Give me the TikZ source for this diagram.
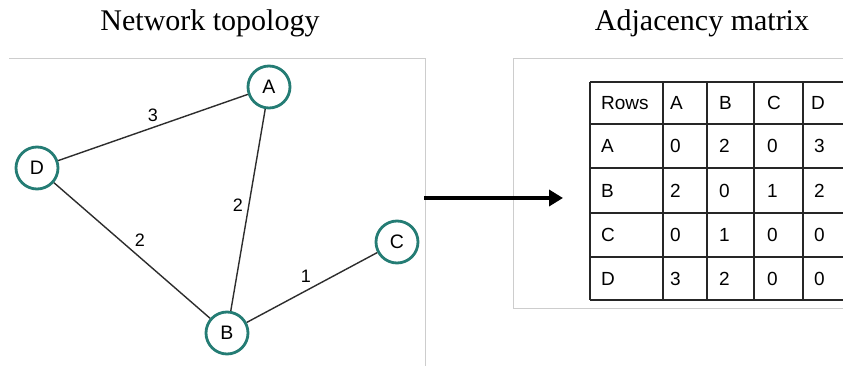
\documentclass[tikz,border=0pt]{standalone}
\usepackage{fontspec}
\setmainfont{Liberation Serif}
\newfontfamily\helv{Liberation Sans}
\usetikzlibrary{arrows.meta}
\definecolor{teal1}{RGB}{36,124,116}
\definecolor{panelgray}{RGB}{205,205,205}
\definecolor{edgegray}{RGB}{45,45,45}
\tikzset{
  vtx/.style={circle, draw=teal1, line width=2.8pt, minimum size=42pt, inner sep=0pt, fill=white, font=\helv\fontsize{19.5}{22}\selectfont},
  wlink/.style={draw=edgegray, line width=1.4pt},
  wlbl/.style={font=\helv\fontsize{18}{21}\selectfont, inner sep=0pt},
  title/.style={font=\fontsize{30}{36}\selectfont, anchor=base, inner sep=0pt},
  panel/.style={draw=panelgray, line width=1pt},
  grid/.style={draw=black!85, line width=1.3pt},
  cell/.style={font=\helv\fontsize{19}{22}\selectfont, anchor=west, inner sep=0pt},
  bigarrow/.style={line width=4pt, -{Triangle[length=14pt,width=16pt]}}
}
\begin{document}
\begin{tikzpicture}[x=1pt,y=-1pt]
\path[use as bounding box, fill=white] (0,0) rectangle (843,366);
\clip (0,0) rectangle (843,366);
% titles
\node[title] (t1) at (210,31) {Network topology};
\node[title] (t2) at (702,31) {Adjacency matrix};
% panels
\draw[panel] (9,59) -- (425,59) -- (425,370);
\draw[panel] (850,59) -- (513,59) -- (513,308) -- (850,308);
% graph
\node[vtx] (A) at (269,87) {A};
\node[vtx] (D) at (37,168) {D};
\node[vtx] (C) at (397,242) {C};
\node[vtx] (B) at (227,333) {B};
\draw[wlink] (D) -- node[wlbl, pos=0.5, shift={(0,-12.5)}] (l3) {3} (A);
\draw[wlink] (A) -- node[wlbl, pos=0.476, shift={(-11,0)}] (l2a) {2} (B);
\draw[wlink] (D) -- node[wlbl, pos=0.5, shift={(8,-10.5)}] (l2b) {2} (B);
\draw[wlink] (B) -- node[wlbl, pos=0.5, shift={(-6,-11.5)}] (l1) {1} (C);
% arrow
\coordinate (arrS) at (424,198);
\coordinate (arrE) at (563,198);
\draw[bigarrow] (arrS) -- (arrE);
% table grid
\foreach \yy in {82,124,168,213,257,300} {\draw[grid] (590,\yy) -- (850,\yy);}
\foreach \xx in {590,663,707,754,803} {\draw[grid] (\xx,82) -- (\xx,300);}
% table text
\node[cell] (h0) at (601,103) {Rows};
\node[cell] (h1) at (670,103) {A};
\node[cell] (h2) at (719,103) {B};
\node[cell] (h3) at (767,103) {C};
\node[cell] (h4) at (811,103) {D};
\node[cell] (ra) at (601,146) {A};
\node[cell] (ra1) at (670,146) {0};
\node[cell] (ra2) at (719,146) {2};
\node[cell] (ra3) at (767,146) {0};
\node[cell] (ra4) at (814,146) {3};
\node[cell] (rb) at (601,190.5) {B};
\node[cell] (rb1) at (670,190.5) {2};
\node[cell] (rb2) at (719,190.5) {0};
\node[cell] (rb3) at (767,190.5) {1};
\node[cell] (rb4) at (814,190.5) {2};
\node[cell] (rc) at (601,235) {C};
\node[cell] (rc1) at (670,235) {0};
\node[cell] (rc2) at (719,235) {1};
\node[cell] (rc3) at (767,235) {0};
\node[cell] (rc4) at (814,235) {0};
\node[cell] (rd) at (601,278.5) {D};
\node[cell] (rd1) at (670,278.5) {3};
\node[cell] (rd2) at (719,278.5) {2};
\node[cell] (rd3) at (767,278.5) {0};
\node[cell] (rd4) at (814,278.5) {0};
\end{tikzpicture}
\end{document}
